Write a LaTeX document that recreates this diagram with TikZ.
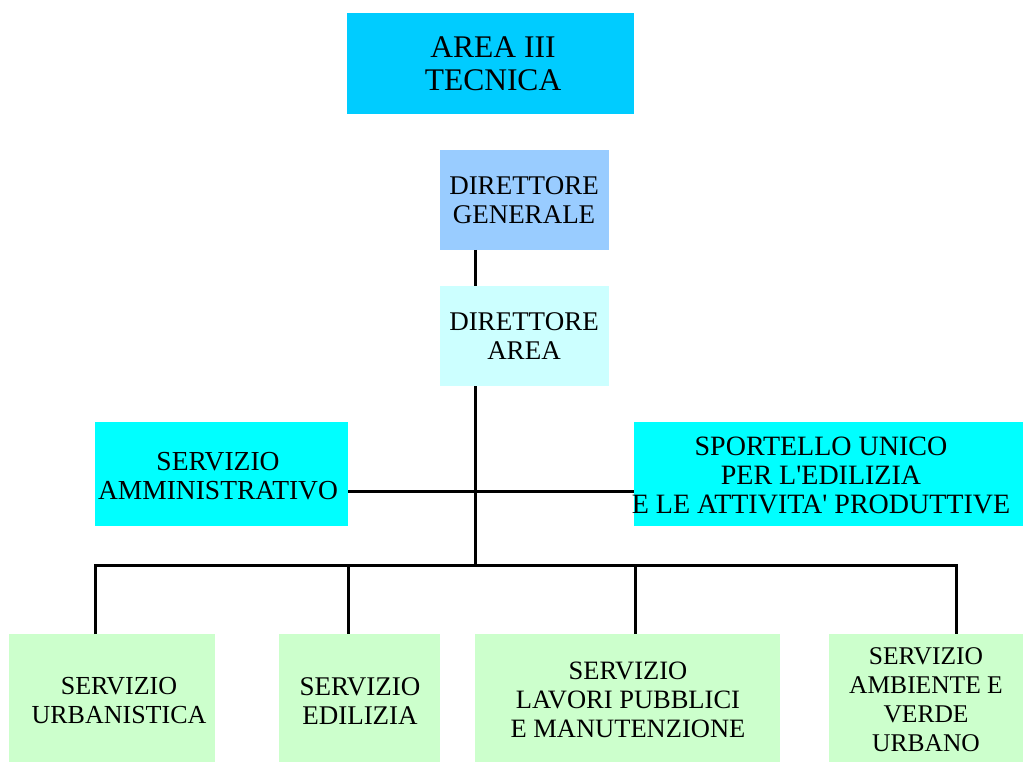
\documentclass[tikz,border=0pt]{standalone}
\usepackage{fontspec}
\setmainfont{Liberation Serif}
\definecolor{topc}{HTML}{00CCFF}
\definecolor{dgc}{HTML}{99CCFF}
\definecolor{dac}{HTML}{CCFFFF}
\definecolor{cyanc}{HTML}{00FFFF}
\definecolor{greenc}{HTML}{CCFFCC}
\begin{document}
\begin{tikzpicture}[x=1pt,y=-1pt,
  box/.style={draw=none, inner sep=0pt, outer sep=0pt, anchor=north west},
  lbl/.style={align=center, inner sep=0pt, text=black},
  conn/.style={line width=3pt, black}]
\useasboundingbox (0,0) rectangle (1023,762);
% boxes
\node[box, fill=topc, minimum width=287pt, minimum height=101pt] (top) at (347,13) {};
\node[box, fill=dgc, minimum width=169pt, minimum height=100pt] (dg) at (440,150) {};
\node[box, fill=dac, minimum width=169pt, minimum height=100pt] (da) at (440,286) {};
\node[box, fill=cyanc, minimum width=253pt, minimum height=104pt] (amm) at (95,422) {};
\node[box, fill=cyanc, minimum width=389pt, minimum height=104pt] (sp) at (634,422) {};
\node[box, fill=greenc, minimum width=206pt, minimum height=128pt] (urb) at (9,634) {};
\node[box, fill=greenc, minimum width=161pt, minimum height=128pt] (edi) at (279,634) {};
\node[box, fill=greenc, minimum width=305pt, minimum height=128pt] (lav) at (475,634) {};
\node[box, fill=greenc, minimum width=195pt, minimum height=128pt] (amb) at (829,634) {};
% labels
\node[lbl, font=\fontsize{31.5}{33}\selectfont] (topt) at (493,64) {AREA III\\TECNICA};
\node[lbl, font=\fontsize{27}{29}\selectfont] (dgt) at (524,200) {DIRETTORE\\GENERALE};
\node[lbl, font=\fontsize{27}{29}\selectfont] (dat) at (524,336) {DIRETTORE\\AREA};
\node[lbl, font=\fontsize{27.5}{29}\selectfont] (ammt) at (218,476) {SERVIZIO\\AMMINISTRATIVO};
\node[lbl, font=\fontsize{28}{29}\selectfont] (spt) at (821,475) {SPORTELLO UNICO\\PER L\textquotesingle EDILIZIA\\E LE ATTIVITA\textquotesingle{} PRODUTTIVE};
\node[lbl, font=\fontsize{26}{29}\selectfont] (urbt) at (119,701) {SERVIZIO\\URBANISTICA};
\node[lbl, font=\fontsize{27}{29}\selectfont] (edit) at (360,701) {SERVIZIO\\EDILIZIA};
\node[lbl, font=\fontsize{26.5}{29}\selectfont] (lavt) at (628,700) {SERVIZIO\\LAVORI PUBBLICI\\E MANUTENZIONE};
\node[lbl, font=\fontsize{25.5}{29}\selectfont] (ambt) at (926,700) {SERVIZIO\\AMBIENTE E\\VERDE\\URBANO};
% connector coordinates
\coordinate (trunk) at (475,0);
\coordinate (mid) at (0,491);
\coordinate (busL) at (95,565);
\coordinate (busR) at (956,565);
\coordinate (dropE) at (348,0);
\coordinate (dropL) at (635,0);
% connectors
\draw[conn] (dg.south -| trunk) -- (da.north -| trunk);
\draw[conn] (da.south -| trunk) -- (busL -| trunk);
\draw[conn] (amm.east |- mid) -- (sp.west |- mid);
\draw[conn] (urb.north -| busL) -- (busL) -- (busR) -- (amb.north -| busR);
\draw[conn] (busL -| dropE) -- (edi.north -| dropE);
\draw[conn] (busL -| dropL) -- (lav.north -| dropL);
\end{tikzpicture}
\end{document}
